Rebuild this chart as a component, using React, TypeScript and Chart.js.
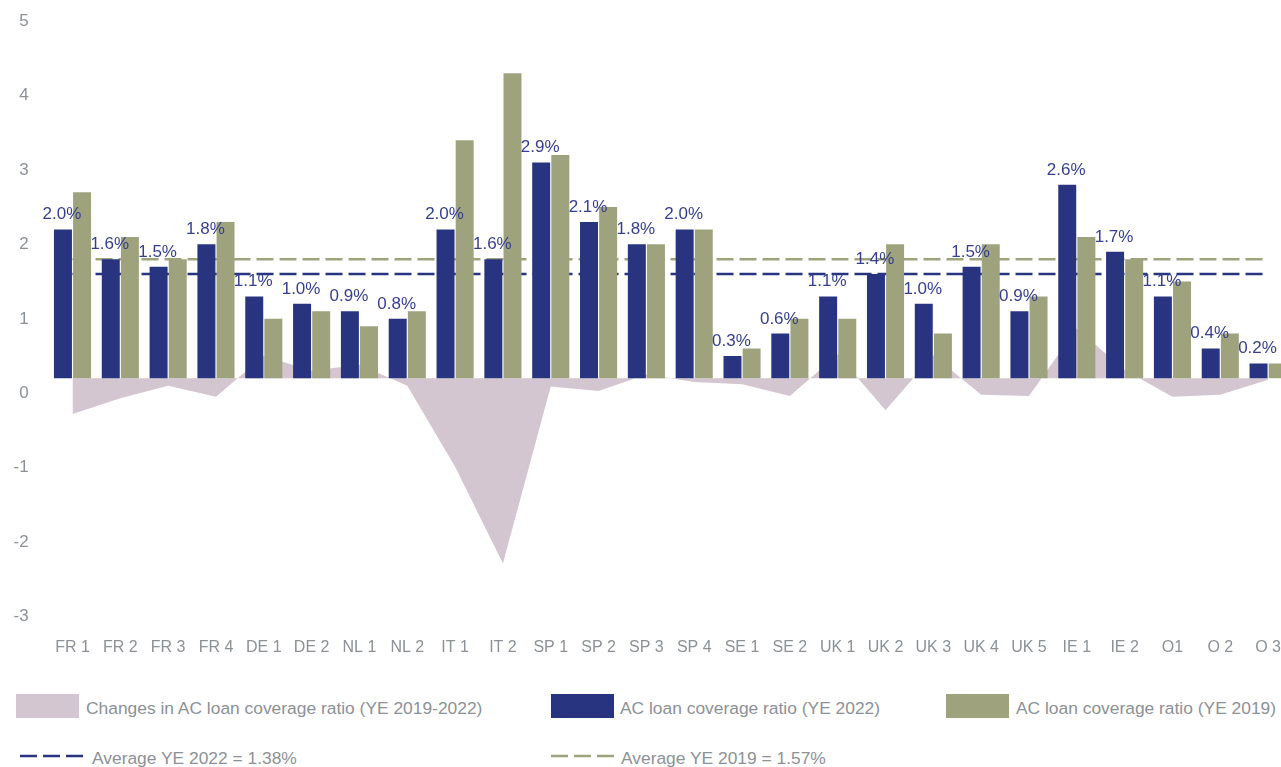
import React, { useEffect, useRef } from "react";
import { Chart, registerables } from "chart.js";

Chart.register(...registerables);

const categories = [
  "FR 1", "FR 2", "FR 3", "FR 4", "DE 1", "DE 2", "NL 1", "NL 2", "IT 1", "IT 2",
  "SP 1", "SP 2", "SP 3", "SP 4", "SE 1", "SE 2", "UK 1", "UK 2", "UK 3", "UK 4",
  "UK 5", "IE 1", "IE 2", "O1", "O 2", "O 3",
];
const coverage2022 = [
  2.0, 1.6, 1.5, 1.8, 1.1, 1.0, 0.9, 0.8, 2.0, 1.6,
  2.9, 2.1, 1.8, 2.0, 0.3, 0.6, 1.1, 1.4, 1.0, 1.5,
  0.9, 2.6, 1.7, 1.1, 0.4, 0.2,
];
const coverage2019 = [
  2.5, 1.9, 1.6, 2.1, 0.8, 0.9, 0.7, 0.9, 3.2, 4.1,
  3.0, 2.3, 1.8, 2.0, 0.4, 0.8, 0.8, 1.8, 0.6, 1.8,
  1.1, 1.9, 1.6, 1.3, 0.6, 0.2,
];
const changes = [
  -0.48, -0.27, -0.1, -0.25, 0.3, 0.1, 0.18, -0.1, -1.19, -2.49,
  -0.11, -0.17, 0.05, -0.05, -0.08, -0.24, 0.32, -0.43, 0.31, -0.22,
  -0.24, 0.67, 0.11, -0.25, -0.22, -0.02,
];
const avgLine2022 = 1.4;
const avgLine2019 = 1.6;
const yMin = -3;
const yMax = 5;
const yStep = 1;

const legendChange = "Changes in AC loan coverage ratio (YE 2019-2022)";
const legend2022 = "AC loan coverage ratio (YE 2022)";
const legend2019 = "AC loan coverage ratio (YE 2019)";
const legendAvg2022 = "Average YE 2022 = 1.38%";
const legendAvg2019 = "Average YE 2019 = 1.57%";

const NAVY = "#293480";
const OLIVE = "#9ea37e";
const PINK = "#d4c6d0";
const GREY = "#8c9197";
const LABEL = "#363f8e";
const FONT = "'Liberation Sans', Arial, sans-serif";

const valueLabels = {
  id: "valueLabels",
  afterDatasetsDraw(chart: any) {
    const meta = chart.getDatasetMeta(0);
    const ctx = chart.ctx;
    ctx.save();
    ctx.font = `17px ${FONT}`;
    ctx.fillStyle = LABEL;
    ctx.textAlign = "center";
    ctx.textBaseline = "alphabetic";
    meta.data.forEach((el: any, i: number) => {
      const v = chart.data.datasets[0].data[i] as number;
      ctx.fillText(`${v.toFixed(1)}%`, el.x - 1, el.y - 10);
    });
    ctx.restore();
  },
};

function DashSwatch({ color, x, y }: { color: string; x: number; y: number }) {
  return (
    <svg width={66} height={6} style={{ position: "absolute", left: x, top: y - 3 }}>
      <line x1={2} y1={3} x2={66} y2={3} stroke={color} strokeWidth={2.5} strokeDasharray="17 6" />
    </svg>
  );
}

export default function App() {
  const ref = useRef<HTMLCanvasElement | null>(null);

  useEffect(() => {
    if (!ref.current) return;
    const chart = new Chart(ref.current, {
      type: "bar",
      data: {
        labels: categories,
        datasets: [
          {
            type: "bar",
            label: legend2022,
            data: coverage2022,
            backgroundColor: NAVY,
            order: 0,
            categoryPercentage: 0.8,
            barPercentage: 0.94,
          },
          {
            type: "bar",
            label: legend2019,
            data: coverage2019,
            backgroundColor: OLIVE,
            order: 0,
            categoryPercentage: 0.8,
            barPercentage: 0.94,
          },
          {
            type: "line",
            label: legendAvg2022,
            data: categories.map(() => avgLine2022),
            borderColor: NAVY,
            borderWidth: 2.5,
            borderDash: [17, 6],
            pointRadius: 0,
            fill: false,
            order: 1,
          },
          {
            type: "line",
            label: legendAvg2019,
            data: categories.map(() => avgLine2019),
            borderColor: OLIVE,
            borderWidth: 2.5,
            borderDash: [17, 6],
            pointRadius: 0,
            fill: false,
            order: 1,
          },
          {
            type: "line",
            label: legendChange,
            data: changes,
            borderWidth: 0,
            borderColor: PINK,
            backgroundColor: PINK,
            pointRadius: 0,
            fill: "origin",
            tension: 0,
            order: 2,
          },
        ],
      } as any,
      options: {
        animation: false,
        responsive: false,
        maintainAspectRatio: false,
        layout: { autoPadding: false, padding: { top: 4.7, left: 0, right: 0, bottom: 0 } } as any,
        plugins: {
          legend: { display: false },
          tooltip: { enabled: false },
        },
        scales: {
          x: {
            grid: { display: false, drawTicks: false },
            border: { display: false },
            ticks: {
              color: GREY,
              font: { family: FONT, size: 16 },
              padding: 36,
              maxRotation: 0,
              autoSkip: false,
            },
            afterFit: (s: any) => {
              s.height = 78.5;
            },
          },
          y: {
            min: yMin,
            max: yMax,
            grid: { display: false, drawTicks: false },
            border: { display: false },
            ticks: {
              stepSize: yStep,
              color: GREY,
              font: { family: FONT, size: 17 },
              padding: 20,
              labelOffset: 15,
            },
            afterFit: (s: any) => {
              s.width = 48.6;
            },
          },
        },
      } as any,
      plugins: [valueLabels],
    });
    return () => chart.destroy();
  }, []);

  const textStyle: React.CSSProperties = {
    position: "absolute",
    fontFamily: FONT,
    fontSize: 17.4,
    lineHeight: "20px",
    color: GREY,
    whiteSpace: "nowrap",
  };

  return (
    <div
      style={{
        position: "fixed",
        left: 0,
        top: 0,
        width: 1281,
        height: 767,
        overflow: "hidden",
        background: "#ffffff",
      }}
    >
      <canvas
        ref={ref}
        width={1317}
        height={704}
        style={{ position: "absolute", left: 0, top: -24.3, width: 1317, height: 704 }}
      />
      <div style={{ position: "absolute", left: 16, top: 694, width: 63, height: 24, background: PINK }} />
      <div style={{ ...textStyle, left: 86, top: 698 }}>{legendChange}</div>
      <div style={{ position: "absolute", left: 551, top: 694, width: 63, height: 24, background: NAVY }} />
      <div style={{ ...textStyle, left: 620, top: 698 }}>{legend2022}</div>
      <div style={{ position: "absolute", left: 946, top: 694, width: 63, height: 24, background: OLIVE }} />
      <div style={{ ...textStyle, left: 1016, top: 698 }}>{legend2019}</div>
      <DashSwatch color={NAVY} x={18} y={756} />
      <div style={{ ...textStyle, left: 92, top: 748 }}>{legendAvg2022}</div>
      <DashSwatch color={OLIVE} x={549} y={756} />
      <div style={{ ...textStyle, left: 621, top: 748 }}>{legendAvg2019}</div>
    </div>
  );
}
